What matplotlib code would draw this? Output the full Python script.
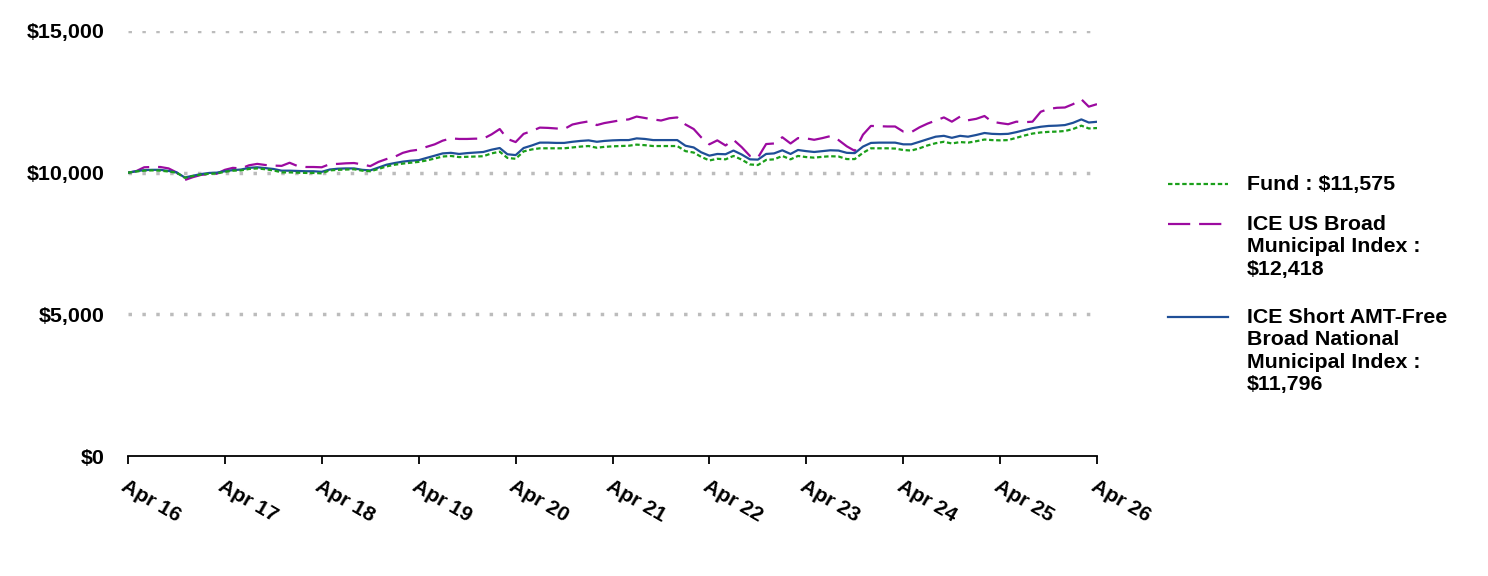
import matplotlib
matplotlib.use("Agg")
from matplotlib import pyplot as plt
from matplotlib.lines import Line2D
import pandas as pd

# monthly values, Apr 2016 .. Apr 2026
fund = [10000, 10040, 10070, 10080, 10070, 10040, 10000, 9820, 9880, 9930, 9960, 9970,
        10030, 10070, 10080, 10130, 10150, 10120, 10080, 10010, 10010, 10000, 9990, 9990,
        9975, 10080, 10100, 10110, 10120, 10070, 10050, 10130, 10220, 10280, 10320, 10350,
        10380, 10430, 10500, 10570, 10590, 10550, 10560, 10570, 10580, 10680, 10740, 10520,
        10490, 10750, 10820, 10860, 10860, 10860, 10860, 10890, 10920, 10940, 10880, 10910,
        10930, 10940, 10950, 10990, 10970, 10940, 10940, 10940, 10940, 10760, 10710, 10560,
        10430, 10490, 10470, 10590, 10460, 10290, 10270, 10450, 10470, 10590, 10470, 10590,
        10550, 10530, 10560, 10580, 10570, 10480, 10480, 10700, 10860, 10860, 10860, 10850,
        10800, 10780, 10860, 10960, 11040, 11090, 11030, 11080, 11060, 11110, 11170, 11150,
        11140, 11150, 11230, 11310, 11380, 11420, 11440, 11450, 11470, 11540, 11660, 11560,
        11575]
broad = [10000, 10050, 10190, 10200, 10200, 10150, 10010, 9740, 9840, 9920, 9950, 9960,
         10100, 10170, 10150, 10260, 10310, 10270, 10250, 10240, 10350, 10230, 10200, 10200,
         10190, 10300, 10310, 10330, 10340, 10290, 10230, 10380, 10480, 10560, 10700, 10770,
         10810, 10910, 11000, 11130, 11210, 11190, 11190, 11200, 11200, 11350, 11540, 11190,
         11080, 11370, 11470, 11590, 11580, 11560, 11540, 11700, 11760, 11810, 11680, 11750,
         11800, 11850, 11880, 11980, 11930, 11880, 11840, 11920, 11950, 11700, 11540, 11250,
         11000, 11140, 10960, 11160, 10900, 10590, 10530, 11010, 11030, 11250, 11030, 11220,
         11210, 11160, 11220, 11290, 11150, 10930, 10770, 11340, 11650, 11640, 11630, 11630,
         11450, 11430, 11600, 11730, 11840, 11950, 11800, 11980, 11850, 11900, 12000, 11800,
         11750, 11710, 11800, 11780, 11800, 12150, 12250, 12290, 12300, 12420, 12590, 12330,
         12418]
short = [10000, 10050, 10090, 10100, 10100, 10060, 10010, 9830, 9890, 9950, 9990, 10000,
         10050, 10090, 10110, 10170, 10190, 10160, 10130, 10070, 10070, 10060, 10050, 10050,
         10030, 10110, 10140, 10150, 10150, 10100, 10080, 10180, 10280, 10340, 10390, 10420,
         10440, 10520, 10600, 10680, 10700, 10660, 10690, 10710, 10730, 10810, 10870, 10650,
         10620, 10870, 10960, 11060, 11060, 11050, 11050, 11090, 11120, 11140, 11090, 11120,
         11140, 11150, 11150, 11210, 11190, 11150, 11150, 11150, 11150, 10950, 10890, 10720,
         10600, 10660, 10650, 10780, 10640, 10470, 10460, 10660, 10680, 10790, 10660, 10800,
         10760, 10730, 10760, 10790, 10780, 10700, 10690, 10920, 11050, 11060, 11060, 11060,
         11000, 11000, 11090, 11180, 11270, 11300, 11230, 11300, 11270, 11330, 11400, 11370,
         11360, 11370, 11430, 11500, 11570, 11620, 11650, 11660, 11680, 11760, 11880, 11770,
         11796]

labels = ["Fund : $11,575",
          "ICE US Broad\nMunicipal Index :\n$12,418",
          "ICE Short AMT-Free\nBroad National\nMunicipal Index :\n$11,796"]
tick_labels = ["Apr 16", "Apr 17", "Apr 18", "Apr 19", "Apr 20", "Apr 21",
               "Apr 22", "Apr 23", "Apr 24", "Apr 25", "Apr 26"]
yticks = [0, 5000, 10000, 15000]

dates = pd.date_range("2016-04-01", periods=len(fund), freq="MS")
tick_dates = pd.date_range("2016-04-01", periods=len(tick_labels), freq="12MS")

plt.rcParams['font.family'] = ['Liberation Sans', 'DejaVu Sans']

green = "#1a9f1a"
purple = "#9c0aa0"
blue = "#1f4f97"

fig = plt.figure(figsize=(14.88, 5.76), dpi=100)
ax = fig.add_axes([128 / 1488, 1 - 456 / 576, (1097 - 128) / 1488, (456 - 31) / 576])

for y in yticks[1:]:
    ax.axhline(y, color="#bcbcbc", lw=2.5, ls=(0, (1, 3)), zorder=0)

ax.plot(dates, broad, color=purple, lw=1.6, ls=(0, (10, 4)))
ax.plot(dates, short, color=blue, lw=1.6)
ax.plot(dates, fund, color=green, lw=1.6, ls=(0, (2, 1.2)))

ax.set_xlim(dates[0], dates[-1])
ax.set_ylim(0, 15000)
ax.set_yticks(yticks)
ax.set_yticklabels(["$0", "$5,000", "$10,000", "$15,000"], fontsize=15.4, fontweight="bold")
ax.tick_params(axis="y", length=0, pad=17)
ax.set_xticks(tick_dates)
ax.set_xticklabels(tick_labels, fontsize=15, fontweight="bold", rotation=-30,
                   ha="left", va="top", rotation_mode="anchor")
ax.tick_params(axis="x", length=6, width=1.3, pad=9)
for s in ["top", "right", "left"]:
    ax.spines[s].set_visible(False)
ax.spines["bottom"].set_linewidth(1.3)

# legend on the right, handle aligned with first text line
styles = [(green, (0, (2, 1.2))), (purple, (0, (10, 4))), (blue, "-")]
legend_y = [184, 224, 317]
for (c, ls), lab, yy in zip(styles, labels, legend_y):
    fy = 1 - yy / 576
    fig.add_artist(Line2D([1168 / 1488, 1228 / 1488], [fy, fy], color=c, lw=1.6, ls=ls))
    fig.text(1247 / 1488, fy + 9 / 576, lab, fontsize=15.4, fontweight="bold",
             va="top", ha="left", linespacing=1.22)

fig.savefig("out.png", dpi=100)
